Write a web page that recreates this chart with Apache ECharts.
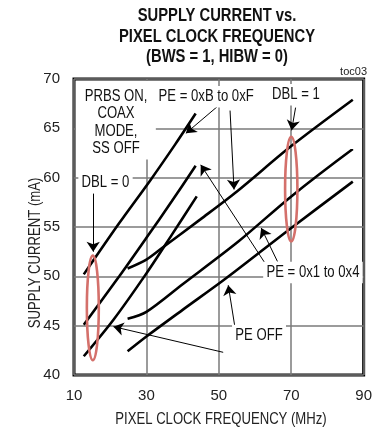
<!DOCTYPE html>
<html>
<head>
<meta charset="utf-8">
<script src="https://cdn.jsdelivr.net/npm/echarts@6/dist/echarts.min.js"></script>
<style>
  html, body { margin: 0; padding: 0; background: #fff; }
  #chart { width: 375px; height: 435px; }
</style>
</head>
<body>
<div id="chart"></div>
<script>
// axes (MHz / mA)
const xTicks = [10, 30, 50, 70, 90];
const yTicks = [40, 45, 50, 55, 60, 65, 70];

// DBL = 0 curves, [MHz, mA]
const dbl0PeHigh = [[12.7, 50.2], [22.5, 55.4], [31.2, 59.8], [38, 63.4], [43.6, 66.5]];
const dbl0PeLow  = [[12.7, 45.1], [22.5, 50.0], [30, 53.9], [37, 57.6], [43.6, 61.2]];
const dbl0PeOff  = [[12.7, 41.9], [20.9, 45.6], [30, 50.3], [37, 54.2], [43.9, 58.1]];

// DBL = 1 curves
const dbl1PeHigh = [[24.8, 50.8], [30, 51.7], [34.4, 52.9], [45, 55.8], [55, 58.6], [70, 63.2], [87, 67.9]];
const dbl1PeLow  = [[24.8, 45.7], [30, 46.4], [40, 49.2], [55.3, 53.5], [70, 58.1], [87, 62.9]];
const dbl1PeOff  = [[24.8, 42.4], [30, 43.9], [40, 46.6], [52, 49.8], [70, 54.9], [87, 59.6]];

// annotation arrows [from, to]
const arrows = [
  [[49.9, 67.3], [40.9, 64.5]],
  [[53.1, 66.8], [54.2, 58.8]],
  [[63.0, 51.2], [45.0, 61.3]],
  [[66.2, 51.5], [61.7, 54.9]],
  [[54.9, 43.8], [52.6, 49.1]],
  [[51.2, 42.3], [20.9, 44.9]],
  [[15.3, 58.4], [15.3, 52.5]],
  [[71.2, 67.1], [70.1, 64.8]]
];

// notes: text and centre in data units
const notes = [
  { text: 'PRBS ON,\nCOAX\nMODE,\nSS OFF', at: [21.6, 65.6] },
  { text: 'PE = 0xB to 0xF', at: [46.5, 68.2] },
  { text: 'DBL = 0', at: [18.7, 59.5] },
  { text: 'DBL = 1', at: [71.3, 68.4] },
  { text: 'PE = 0x1 to 0x4', at: [76.0, 50.4] },
  { text: 'PE OFF', at: [61.1, 44.0] }
];

// ellipses: centre and half sizes (MHz, mA)
const rings = [
  { at: [15.2, 46.8], half: [1.65, 5.3] },
  { at: [70.0, 58.85], half: [1.7, 5.3] }
];

// no narrow face installed, so Liberation Sans squeezed sideways
const FONT = '"Liberation Sans", Arial, sans-serif';
const SQUEEZE = 0.82;

const chart = echarts.init(document.getElementById('chart'), null, { renderer: 'canvas' });

function curve(data) {
  return {
    type: 'line',
    data: data,
    smooth: 0.3,
    showSymbol: false,
    symbol: 'none',
    silent: true,
    lineStyle: { color: '#000', width: 2.6 },
    z: 5
  };
}

const option = {
  animation: false,
  backgroundColor: '#fff',
  grid: {
    left: 74, right: 8, top: 79, bottom: 60,
    show: true,
    borderColor: '#000',
    borderWidth: 3,
    backgroundColor: 'transparent'
  },
  xAxis: {
    type: 'value',
    min: xTicks[0], max: xTicks[xTicks.length - 1], interval: 20,
    axisLine: { show: false },
    axisTick: { show: false },
    axisLabel: { fontFamily: FONT, fontSize: 15, color: '#222', margin: 13 },
    splitLine: { lineStyle: { color: '#7a7a7a', width: 1.5 } }
  },
  yAxis: {
    type: 'value',
    min: yTicks[0], max: yTicks[yTicks.length - 1], interval: 5,
    axisLine: { show: false },
    axisTick: { show: false },
    axisLabel: { fontFamily: FONT, fontSize: 15, color: '#222', margin: 14 },
    splitLine: { lineStyle: { color: '#7a7a7a', width: 1.5 } }
  },
  series: [
    curve(dbl0PeHigh), curve(dbl0PeLow), curve(dbl0PeOff),
    curve(dbl1PeHigh), curve(dbl1PeLow), curve(dbl1PeOff),
    {
      type: 'line',
      data: [],
      silent: true,
      z: 6,
      markLine: {
        silent: true,
        symbol: ['none', 'arrow'],
        symbolSize: 10,
        label: { show: false },
        lineStyle: { color: '#000', width: 1, type: 'solid' },
        data: arrows.map(a => [{ coord: a[0] }, { coord: a[1] }])
      }
    }
  ]
};
chart.setOption(option);

const toPx = p => chart.convertToPixel({ gridIndex: 0 }, p);
const graphics = [];

function label(text, x, y, font, extra) {
  return Object.assign({
    type: 'text', x: x, y: y, z: 100, scaleX: SQUEEZE,
    style: Object.assign({
      text: text, font: font, fill: '#111',
      align: 'center', verticalAlign: 'middle', textAlign: 'center', textVerticalAlign: 'middle'
    }, extra || {})
  });
}

// title and axis names
graphics.push(label('SUPPLY CURRENT vs.\nPIXEL CLOCK FREQUENCY\n(BWS = 1, HIBW = 0)', 217, 37,
  'bold 18px ' + FONT, { lineHeight: 20.5 }));
graphics.push({
  type: 'text', x: 367, y: 72, z: 100,
  style: { text: 'toc03', font: '11px ' + FONT, fill: '#222',
    align: 'right', verticalAlign: 'middle', textAlign: 'right', textVerticalAlign: 'middle' }
});
graphics.push(label('PIXEL CLOCK FREQUENCY (MHz)', 221, 420, '16px ' + FONT, { fill: '#222' }));
const yName = label('SUPPLY CURRENT (mA)', 36, 253, '16px ' + FONT, { fill: '#222' });
yName.rotation = Math.PI / 2;
graphics.push(yName);

// white panel behind the condition note
const pA = toPx([10, 70]);
const pB = toPx([32.6, 61.9]);
graphics.push({
  type: 'rect', z: 90,
  shape: { x: pA[0] + 2, y: pA[1] + 2, width: pB[0] - pA[0] - 2, height: pB[1] - pA[1] - 2 },
  style: { fill: '#fff' }
});

notes.forEach(n => {
  const p = toPx(n.at);
  graphics.push(label(n.text, p[0], p[1], '16px ' + FONT,
    { lineHeight: 17.5, backgroundColor: '#fff', padding: [2, 4] }));
});

rings.forEach(r => {
  const c = toPx(r.at);
  const e = toPx([r.at[0] + r.half[0], r.at[1] + r.half[1]]);
  graphics.push({
    type: 'ellipse', z: 60,
    shape: { cx: c[0], cy: c[1], rx: Math.abs(e[0] - c[0]), ry: Math.abs(e[1] - c[1]) },
    style: { fill: 'none', stroke: '#d4706b', lineWidth: 2.6 }
  });
});

chart.setOption({ graphic: { elements: graphics } });
</script>
</body>
</html>
